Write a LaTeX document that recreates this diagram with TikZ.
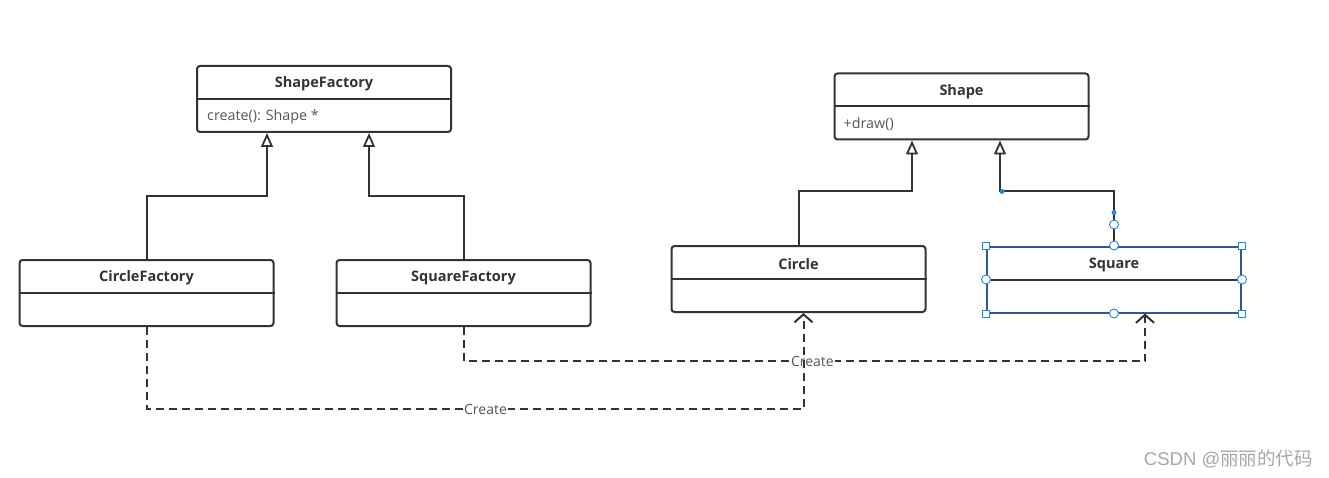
\documentclass[tikz,border=0pt]{standalone}
\usepackage{fontspec}
\setmainfont{Open Sans}
\newfontfamily\cjk{Noto Sans CJK SC}
\newfontfamily\wmlatin{Liberation Sans}
\usetikzlibrary{arrows.meta}
\definecolor{ink}{HTML}{333333}
\definecolor{memb}{HTML}{555555}
\definecolor{selblue}{HTML}{2A5A96}
\definecolor{handle}{HTML}{1E88E5}
\tikzset{
  cls/.style={draw=ink, line width=2pt, rounded corners=3pt, minimum width=254pt, minimum height=66pt, inner sep=0pt},
  ttl/.style={font=\bfseries\fontsize{14.5}{16}\selectfont, text=ink, inner sep=0pt},
  mbr/.style={font=\fontsize{14.3}{16}\selectfont, text=memb, inner sep=0pt, anchor=west},
  inh/.style={draw=ink, line width=2pt, -{Triangle[open, width=12pt, length=14pt, line width=1.8pt]}},
  dep/.style={draw=ink, line width=2pt, dash pattern=on 8pt off 5pt, -{Straight Barb[width=18pt, length=8pt, line width=2pt]}},
  lbl/.style={font=\fontsize{14}{16}\selectfont, text=memb, fill=white, inner sep=1pt},
  hsq/.style={draw=handle, fill=white, line width=0.9pt, minimum size=7pt, inner sep=0pt},
  hci/.style={draw=handle, fill=white, line width=0.9pt, circle, minimum size=9pt, inner sep=0pt},
  hdot/.style={fill=handle, circle, minimum size=5pt, inner sep=0pt},
}
\begin{document}
\begin{tikzpicture}[x=1pt, y=-1pt]
\useasboundingbox (0,0) rectangle (1329,478);
% classes
\node[cls] (sf) at (324,99) {};
\draw[ink, line width=2pt] (sf.west) -- (sf.east);
\node[ttl] (sft) at ([yshift=15pt]sf.center) {ShapeFactory};
\node[mbr] (sfm) at ([xshift=11pt, yshift=-17.5pt]sf.west) {create(): Shape *};

\node[cls] (sh) at (961.5,106.5) {};
\draw[ink, line width=2pt] (sh.west) -- (sh.east);
\node[ttl] (sht) at ([yshift=15pt]sh.center) {Shape};
\node[mbr] (shm) at ([xshift=10pt, yshift=-17.5pt]sh.west) {+draw()};

\node[cls] (cf) at (146.5,293) {};
\draw[ink, line width=2pt] (cf.west) -- (cf.east);
\node[ttl] (cft) at ([yshift=15pt]cf.center) {CircleFactory};

\node[cls] (qf) at (463.5,293) {};
\draw[ink, line width=2pt] (qf.west) -- (qf.east);
\node[ttl] (qft) at ([yshift=15pt]qf.center) {SquareFactory};

\node[cls] (ci) at (798.5,279) {};
\draw[ink, line width=2pt] (ci.west) -- (ci.east);
\node[ttl] (cit) at ([yshift=15pt]ci.center) {Circle};

\node[cls, draw=selblue, rounded corners=0pt] (sq) at (1114,279.5) {};
\draw[ink, line width=2pt] (sq.west) -- (sq.east);
\node[ttl] (sqt) at ([yshift=15pt]sq.center) {Square};

% inheritance
\draw[inh] (cf.north) -- ++(0,-63) -| ([xshift=71pt]sf.south west);
\draw[inh] (qf.north) -- ++(0,-63) -| ([xshift=173pt]sf.south west);
\draw[inh] (ci.north) -- ++(0,-54) -| ([xshift=78.5pt]sh.south west);
\draw[inh] (sq.north) -- ++(0,-54) -| ([xshift=166.5pt]sh.south west);

% dependencies
\draw[dep] (qf.south) -- ++(0,34) -| node[lbl, pos=0.256] (c2) {Create} ([xshift=159pt]sq.south west);
\draw[dep] (cf.south) -- ++(0,82) -| node[lbl, pos=0.258] (c1) {Create} ([xshift=133pt]ci.south west);

% selection handles on Square
\node[hsq] (h1) at (sq.north west) {};
\node[hsq] (h2) at (sq.north east) {};
\node[hsq] (h3) at (sq.south west) {};
\node[hsq] (h4) at (sq.south east) {};
\node[hci] (h5) at (sq.north) {};
\node[hci] (h6) at (sq.south) {};
\node[hci] (h7) at (sq.west) {};
\node[hci] (h8) at (sq.east) {};
\node[hci] (h9) at ([yshift=21pt]sq.north) {};
\node[hdot] (h10) at ([yshift=33pt]sq.north) {};
\node[hdot] (h11) at ([xshift=-112pt, yshift=54pt]sq.north) {};

% watermark
\node[text=gray!70, font=\fontsize{18.5}{20}\selectfont, inner sep=0pt, anchor=east] (wm) at (1313,459) {\wmlatin CSDN @\cjk 丽丽的代码};
\end{tikzpicture}
\end{document}
